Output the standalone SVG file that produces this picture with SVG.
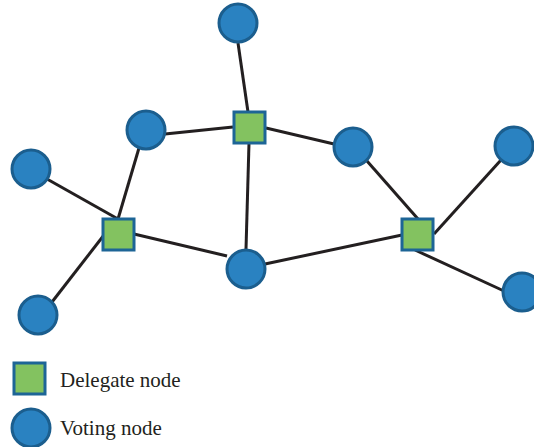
<svg xmlns="http://www.w3.org/2000/svg" width="534" height="447" viewBox="0 0 534 447">
<style>
.edge{stroke:#231f20;stroke-width:3;fill:none;stroke-linecap:butt}
.vote{fill:#2a82c1;stroke:#1b5e8e;stroke-width:3}
.del{fill:#83c260;stroke:#1d6596;stroke-width:3}
.lbl{font-family:"Liberation Serif","Times New Roman",serif;font-size:21px;fill:#231f20}
</style>
<rect width="534" height="447" fill="#ffffff"/>
<g id="connectors">
<line class="edge" x1="238" y1="43" x2="248" y2="112"/>
<line class="edge" x1="165" y1="134" x2="233" y2="127"/>
<line class="edge" x1="266" y1="128" x2="334" y2="144"/>
<line class="edge" x1="249" y1="143" x2="246" y2="249"/>
<line class="edge" x1="139" y1="148" x2="118" y2="219"/>
<line class="edge" x1="47" y1="179" x2="118" y2="219"/>
<line class="edge" x1="52" y1="302" x2="104" y2="235"/>
<line class="edge" x1="134" y1="234" x2="227" y2="256"/>
<line class="edge" x1="265" y1="264" x2="402" y2="235"/>
<line class="edge" x1="367" y1="161" x2="418" y2="219"/>
<line class="edge" x1="434" y1="234" x2="501" y2="160"/>
<line class="edge" x1="415" y1="250" x2="504" y2="291"/>
</g>
<g id="v-top"><circle class="vote" cx="238" cy="23" r="19"/></g>
<g id="v-upper-left"><circle class="vote" cx="146" cy="130" r="19"/></g>
<g id="v-left"><circle class="vote" cx="31" cy="169" r="19"/></g>
<g id="v-bottom-left"><circle class="vote" cx="38" cy="315" r="19"/></g>
<g id="v-middle"><circle class="vote" cx="246" cy="269" r="19"/></g>
<g id="v-center-right"><circle class="vote" cx="353" cy="147" r="19"/></g>
<g id="v-upper-right"><circle class="vote" cx="514" cy="146" r="19"/></g>
<g id="v-lower-right"><circle class="vote" cx="522" cy="292" r="19"/></g>
<g id="d-top"><rect class="del" x="234" y="112" width="31" height="31"/></g>
<g id="d-left"><rect class="del" x="103" y="219" width="31" height="31"/></g>
<g id="d-right"><rect class="del" x="402" y="219" width="31" height="31"/></g>
<g id="legend">
<rect class="del" x="14" y="363" width="31" height="31"/>
<text class="lbl" x="60" y="387">Delegate node</text>
<circle class="vote" cx="31" cy="428" r="19"/>
<text class="lbl" x="60" y="435">Voting node</text>
</g>
</svg>
